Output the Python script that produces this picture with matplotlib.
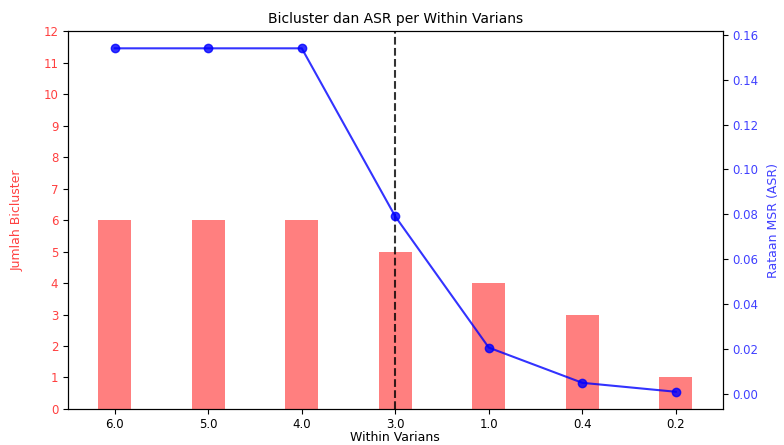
import matplotlib.pyplot as plt

# within varians thresholds and results
varians = ["6.0", "5.0", "4.0", "3.0", "1.0", "0.4", "0.2"]
jumlah_bicluster = [6, 6, 6, 5, 4, 3, 1]
rataan_msr = [0.154, 0.154, 0.154, 0.079, 0.0205, 0.0048, 0.0008]
terpilih = "3.0"

fig = plt.figure(figsize=(7.84, 4.45), dpi=100)
ax1 = fig.add_axes([0.0867, 0.081, 0.835, 0.849])
x = range(len(varians))

ax1.bar(x, jumlah_bicluster, width=0.35, color='red', alpha=0.5)
ax1.set_ylim(0, 12)
ax1.set_yticks(range(0, 13))
ax1.set_xlim(-0.5, 6.5)
ax1.set_xticks(list(x))
ax1.set_xticklabels(varians)
ax1.set_xlabel('Within Varians', fontsize=9, labelpad=0)
ax1.set_ylabel('Jumlah Bicluster', color='#ff4040', fontsize=9, labelpad=14)
ax1.tick_params(axis='y', labelcolor='#ff4040', labelsize=8.5)
ax1.tick_params(axis='x', labelsize=8.5, pad=3)

ax2 = ax1.twinx()
ax2.plot(x, rataan_msr, color='blue', marker='o', alpha=0.8)
ax2.set_yticks([0.0, 0.02, 0.04, 0.06, 0.08, 0.10, 0.12, 0.14, 0.16])
ax2.set_ylabel('Rataan MSR (ASR)', color='#4040ff', fontsize=9, labelpad=6)
ax2.tick_params(axis='y', labelcolor='#4040ff', labelsize=8.5)

ax1.axvline(varians.index(terpilih), color='black', linestyle='--', alpha=0.8)

ax1.set_title('Bicluster dan ASR per Within Varians', fontsize=10)

fig.savefig('out.png', dpi=100)
